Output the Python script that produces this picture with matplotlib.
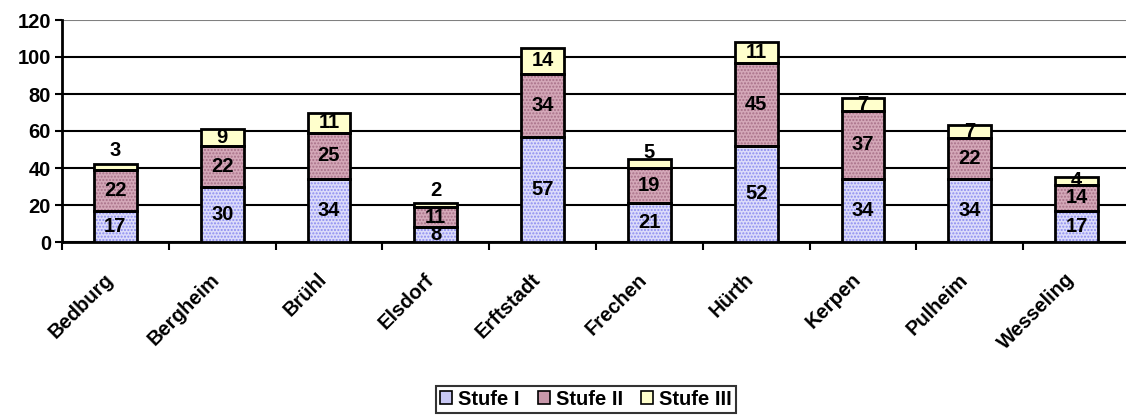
import matplotlib
matplotlib.use("Agg")
import matplotlib.pyplot as plt
from matplotlib.patches import Patch
import matplotlib.transforms as mtrans
import numpy as np

plt.rcParams['font.family'] = ['Liberation Sans', 'DejaVu Sans']
plt.rcParams['font.weight'] = 'bold'
plt.rcParams['hatch.linewidth'] = 1.0

# data
orte = ['Bedburg', 'Bergheim', 'Brühl', 'Elsdorf', 'Erftstadt',
        'Frechen', 'Hürth', 'Kerpen', 'Pulheim', 'Wesseling']
stufe_1 = [17, 30, 34, 8, 57, 21, 52, 34, 34, 17]
stufe_2 = [22, 22, 25, 11, 34, 19, 45, 37, 22, 14]
stufe_3 = [3, 9, 11, 2, 14, 5, 11, 7, 7, 4]
serien = ['Stufe I', 'Stufe II', 'Stufe III']
y_ticks = [0, 20, 40, 60, 80, 100, 120]

# look of the three series: base colour, dot colour
base = ['#dcdcfa', '#d4a8b8', '#ffffcc']
dots = ['#8c8cf0', '#a87088', '#ffffcc']
legend_col = ['#c8c8f4', '#c898aa', '#ffffcc']

fs = 14.5

fig = plt.figure(figsize=(11.26, 4.16), dpi=100)
ax = fig.add_axes([62 / 1126, 1 - 242 / 416, 1068 / 1126, 222 / 416])

x = np.arange(len(orte))
w = 0.40
bottom = np.zeros(len(orte))
for vals, fc, hc in zip([stufe_1, stufe_2, stufe_3], base, dots):
    vals = np.array(vals)
    hatch = '.....' if hc != fc else None
    ax.bar(x, vals, w, bottom=bottom, color=fc, edgecolor=hc, hatch=hatch,
           linewidth=0, zorder=3)
    ax.bar(x, vals, w, bottom=bottom, facecolor='none', edgecolor='black',
           linewidth=2, zorder=4)
    bottom += vals

# value labels; small top segments get their label lifted above the bar
lift_iii = {0: 7.5, 3: 7.0, 5: 3.5}
bottom = np.zeros(len(orte))
for s, vals in enumerate([stufe_1, stufe_2, stufe_3]):
    for i, v in enumerate(vals):
        y = bottom[i] + v / 2
        if s == 2 and i in lift_iii:
            y = bottom[i] + v + lift_iii[i]
        ax.text(x[i], y, str(v), ha='center', va='center',
                fontsize=fs, fontweight='bold', zorder=5)
    bottom += np.array(vals)

ax.set_xlim(-0.5, len(orte) - 0.5)
ax.set_ylim(0, 120)
ax.set_yticks(y_ticks)
ax.set_yticklabels([str(t) for t in y_ticks], fontsize=fs, fontweight='bold')
ax.tick_params(axis='y', length=5, width=1.5, direction='out', pad=3)

ax.set_xticks(np.arange(len(orte) + 1) - 0.5)
ax.set_xticklabels([])
ax.tick_params(axis='x', which='major', length=6, width=1.5, direction='out')
ax.set_xticks(x, minor=True)
ax.set_xticklabels(orte, minor=True, rotation=45, ha='right', va='top',
                   rotation_mode='anchor', fontsize=fs, fontweight='bold')
ax.tick_params(axis='x', which='minor', length=0, pad=20)
shift = mtrans.ScaledTranslation(-12 / 100, 0, fig.dpi_scale_trans)
for lab in ax.xaxis.get_minorticklabels():
    lab.set_transform(lab.get_transform() + shift)

ax.yaxis.grid(True, color='black', linewidth=1.5, zorder=0)
ax.get_ygridlines()[-1].set_color('#808080')
ax.set_axisbelow(True)
for side in ['top', 'right']:
    ax.spines[side].set_visible(False)
ax.spines['left'].set_linewidth(2)
ax.spines['bottom'].set_linewidth(2)

handles = [Patch(facecolor=c, edgecolor='black', linewidth=1.2) for c in legend_col]
leg = fig.legend(handles, serien, loc='lower center',
                 bbox_to_anchor=(586 / 1126, 3 / 416), ncol=3,
                 frameon=True, fancybox=False, edgecolor='black',
                 prop={'weight': 'bold', 'size': fs},
                 handlelength=0.6, handleheight=0.6, handletextpad=0.3,
                 columnspacing=0.9, borderpad=0.2, borderaxespad=0)
leg.get_frame().set_linewidth(1.5)

fig.savefig('out.png', dpi=100)
